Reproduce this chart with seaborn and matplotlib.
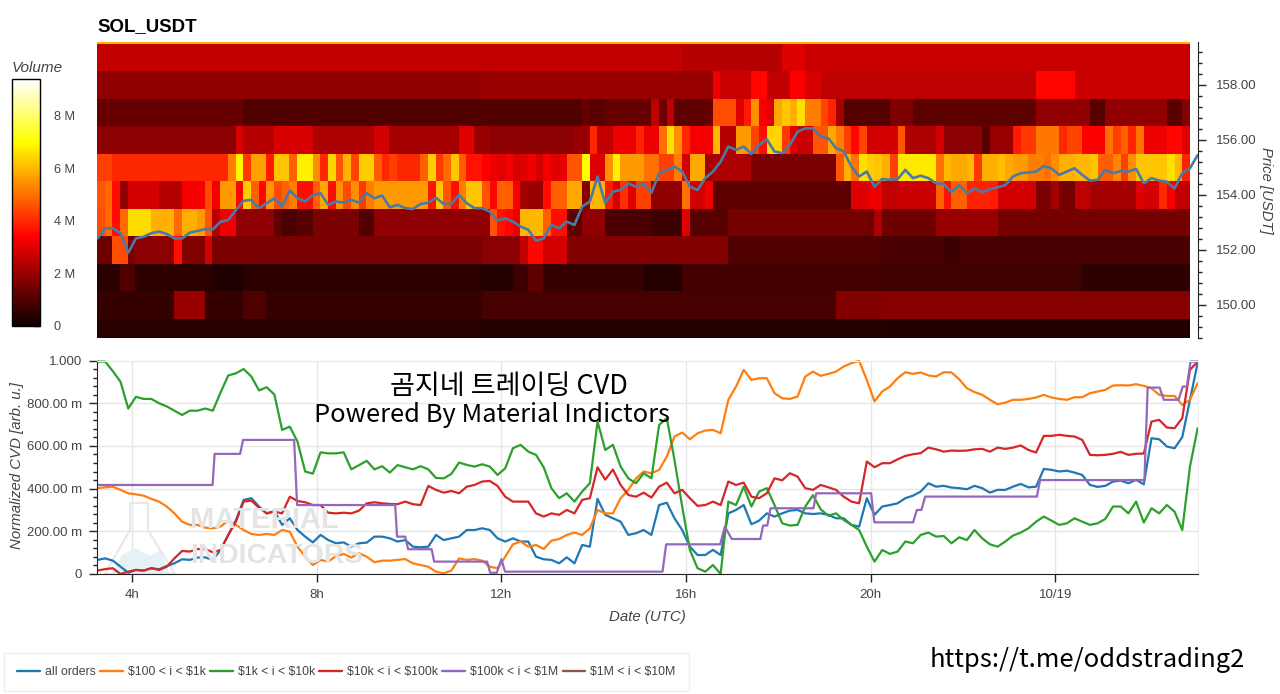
import numpy as np
import pandas as pd
import matplotlib
matplotlib.use("Agg")
import matplotlib.pyplot as plt
import seaborn as sns
from matplotlib.lines import Line2D
from matplotlib.patches import Polygon
from matplotlib.ticker import FixedLocator, FuncFormatter, MultipleLocator

W, H = 1280, 694

# heatmap rows, volume in millions, written as (value, number of 10 minute cells)
price_rows = [149, 150, 151, 152, 153, 154, 155, 156, 157, 158, 159, 160]
row_160 = [(5.9, 142)]
row_159 = [(2.6, 76), (2.4, 13), (3.0, 3), (2.7, 50)]
row_158 = [(1.9, 50), (2.0, 30), (3.2, 1), (2.7, 4), (3.5, 2), (2.6, 3), (3.4, 2), (2.9, 2), (2.5, 28), (3.5, 5), (2.7, 15)]
row_157 = [(1.3, 19), (1.0, 44), (1.3, 1), (1.1, 2), (1.3, 6), (2.5, 1), (1.4, 1), (2.5, 1), (1.2, 4), (1.3, 1),
           (4.5, 3), (3.0, 1), (3.8, 1), (5.4, 1), (3.3, 1), (3.0, 1), (5.8, 1), (6.2, 1), (5.9, 1), (6.6, 1), (5.2, 2),
           (4.4, 1), (3.9, 1), (2.2, 1), (1.05, 6), (1.6, 3), (1.15, 16), (1.9, 7), (1.1, 2), (1.9, 8), (1.1, 2), (1.7, 1)]
row_156 = [(1.8, 18), (2.9, 1), (2.4, 4), (2.9, 5), (2.3, 8), (2.8, 2), (2.2, 9), (3.0, 2), (2.0, 2), (1.8, 11),
           (2.0, 2), (4.0, 1), (2.6, 2), (3.2, 3), (3.9, 1), (3.2, 2), (5.0, 1), (6.6, 1), (5.4, 1), (4.0, 1), (3.3, 3),
           (6.0, 1), (2.4, 2), (5.6, 2), (4.4, 1), (3.6, 1), (6.4, 2), (4.2, 1), (3.0, 1), (2.7, 2), (4.6, 2), (5.8, 1),
           (5.2, 1), (4.3, 1), (3.5, 1), (4.4, 1), (2.8, 4), (4.6, 1), (2.3, 4), (2.8, 1), (1.8, 5), (1.1, 1), (2.0, 3),
           (3.8, 1), (4.2, 2), (5.1, 3), (4.0, 1), (4.4, 2), (3.4, 3), (5.0, 1), (4.3, 1), (4.8, 1), (4.0, 1), (5.0, 1),
           (3.2, 3), (3.5, 2), (3.0, 1), (6.1, 1)]
row_155 = [(4.3, 2), (4.0, 15), (5.2, 1), (6.9, 1), (4.2, 1), (5.7, 2), (3.8, 1), (6.2, 2), (4.8, 1), (6.8, 2), (5.4, 1),
           (4.0, 1), (6.4, 1), (4.6, 1), (5.9, 1), (4.4, 1), (6.3, 2), (4.7, 1), (4.0, 1), (4.3, 1), (4.0, 3), (4.8, 1),
           (6.3, 1), (4.2, 1), (4.9, 1), (6.2, 1), (4.7, 1), (3.7, 2), (3.4, 1), (3.2, 1), (3.0, 1), (3.3, 1), (2.9, 1),
           (3.0, 1), (3.2, 1), (2.8, 1), (3.3, 1), (3.0, 1), (3.1, 1), (4.6, 2), (7.0, 1), (3.0, 2), (5.5, 1), (6.8, 1),
           (5.6, 3), (5.0, 2), (4.3, 2), (5.2, 1), (2.8, 1), (5.8, 2), (2.2, 1), (2.3, 5), (1.6, 11), (4.6, 1), (5.9, 1),
           (5.0, 1), (6.6, 1), (6.3, 1), (6.2, 1), (5.9, 1), (4.3, 1), (6.7, 5), (5.0, 1), (6.0, 1), (5.8, 2), (6.0, 1),
           (4.2, 1), (5.9, 2), (6.1, 1), (5.8, 1), (5.6, 2), (5.2, 2), (5.0, 1), (5.4, 1), (5.9, 2), (6.0, 2), (6.2, 1),
           (4.8, 1), (4.7, 1), (5.3, 1), (4.3, 1), (5.4, 1), (6.2, 4), (6.6, 1), (6.0, 1), (3.9, 1)]
row_154 = [(4.6, 1), (4.9, 1), (3.6, 1), (1.9, 1), (2.8, 4), (2.4, 3), (3.3, 3), (4.5, 1), (3.3, 1), (5.6, 2), (3.5, 1),
           (6.3, 1), (4.8, 1), (3.5, 1), (5.5, 1), (4.5, 1), (4.8, 1), (5.2, 1), (3.6, 2), (4.8, 1), (5.8, 1), (3.6, 1),
           (5.4, 1), (4.5, 1), (5.4, 1), (4.2, 1), (5.2, 1), (5.6, 7), (3.7, 1), (6.2, 1), (4.6, 1), (3.6, 1), (5.2, 1),
           (6.2, 2), (4.6, 1), (3.5, 1), (4.8, 2), (3.4, 1), (2.2, 1), (2.0, 2), (3.6, 1), (4.8, 2), (5.8, 2), (1.7, 1),
           (6.0, 2), (3.8, 1), (2.9, 1), (4.1, 1), (3.0, 1), (4.3, 2), (1.9, 4), (5.0, 1), (2.8, 2), (3.2, 1), (1.2, 18),
           (3.0, 2), (3.2, 2), (2.6, 2), (2.7, 5), (4.8, 1), (3.7, 1), (4.8, 2), (3.9, 3), (3.8, 1), (2.8, 5), (1.6, 2),
           (2.2, 1), (1.5, 2), (2.5, 2), (2.2, 6), (3.0, 1), (2.8, 2), (4.0, 1), (3.3, 1), (2.6, 2)]
row_153 = [(4.5, 1), (4.9, 1), (3.6, 1), (4.9, 1), (6.5, 3), (5.9, 3), (4.9, 1), (5.9, 2), (5.6, 1), (4.6, 1), (2.4, 1),
           (3.2, 2), (1.9, 5), (1.2, 1), (0.9, 2), (1.1, 2), (1.6, 6), (1.0, 2), (1.9, 15), (4.6, 1), (3.7, 1), (3.5, 1),
           (3.1, 1), (6.0, 3), (4.8, 1), (3.6, 2), (1.2, 2), (1.9, 3), (0.9, 6), (0.7, 4), (3.0, 1), (1.1, 5), (1.5, 18),
           (1.4, 1), (2.3, 1), (1.4, 7), (2.0, 8), (1.5, 25)]
row_152 = [(1.4, 2), (4.5, 2), (1.6, 1), (1.8, 5), (3.6, 1), (1.7, 3), (2.8, 1), (1.6, 35), (1.8, 5), (2.6, 1), (3.5, 2),
           (2.8, 3), (1.7, 21), (1.0, 20), (0.9, 8), (0.7, 2), (0.9, 30)]
row_151 = [(0.45, 3), (1.0, 2), (0.5, 10), (0.3, 4), (0.5, 31), (0.4, 4), (0.7, 2), (1.2, 2), (0.6, 13), (0.4, 5), (0.8, 26),
           (0.75, 26), (0.55, 14)]
row_150 = [(0.6, 10), (2.0, 4), (0.6, 5), (0.95, 3), (0.6, 28), (0.85, 46), (1.7, 6), (1.75, 40)]
row_149 = [(0.45, 50), (0.4, 52), (0.35, 40)]

# price and CVD series are sampled every 10 minutes from 03:15
price_usdt = [152.42, 152.79, 152.79, 152.61, 151.90, 152.42, 152.48, 152.61, 152.67, 152.58, 152.42, 152.42, 152.63,
              152.69, 152.76, 152.75, 153.03, 153.09, 153.45, 153.79, 153.82, 153.52, 153.70, 153.88, 153.58, 154.16,
              153.88, 153.76, 154.0, 154.06, 153.64, 153.76, 153.72, 153.82, 153.72, 154.06, 153.88, 153.98, 153.55,
              153.64, 153.52, 153.49, 153.67, 153.72, 153.90, 153.67, 153.67, 154.0, 153.70, 153.52, 153.52, 153.39,
              153.07, 153.15, 153.03, 152.85, 152.73, 152.34, 152.42, 152.91, 152.79, 153.03, 152.91, 153.58, 153.76,
              154.67, 153.70, 154.12, 154.18, 154.42, 154.30, 154.42, 154.08, 154.79, 154.91, 155.03, 154.85, 154.30,
              154.18, 154.61, 154.85, 155.21, 155.76, 155.64, 155.76, 155.49, 155.82, 156.02, 155.58, 155.52, 155.82,
              156.30, 156.42, 156.42, 156.12, 156.06, 155.70, 155.58, 155.03, 154.67, 154.85, 154.30, 154.58, 154.55,
              154.57, 154.91, 154.61, 154.70, 154.61, 154.42, 154.40, 154.10, 154.36, 154.06, 154.24, 154.10, 154.21,
              154.28, 154.36, 154.67, 154.79, 154.82, 154.85, 155.05, 154.97, 154.73, 154.85, 154.97, 154.73, 154.52,
              154.55, 154.91, 154.79, 154.87, 154.85, 154.95, 154.42, 154.61, 154.52, 154.48, 154.24, 154.79, 154.97,
              155.45]

cvd_all = [.066, .073, .0625, .034, .006, .019, .016, .027, .022, .037, .05, .069, .066, .077, .078, .066, .1125, .183,
           .253, .347, .355, .316, .284, .295, .23, .261, .206, .175, .148, .183, .159, .144, .148, .128, .144, .147,
           .175, .175, .167, .152, .159, .128, .125, .128, .183, .159, .167, .175, .206, .206, .214, .206, .167, .152,
           .167, .152, .152, .081, .069, .066, .05, .078, .05, .136, .128, .352, .277, .261, .245, .183, .191, .206,
           .183, .323, .334, .261, .206, .128, .089, .089, .113, .089, .284, .30, .323, .233, .25, .284, .269, .284,
           .297, .30, .284, .281, .284, .277, .261, .261, .23, .222, .355, .277, .316, .323, .331, .355, .367, .386,
           .425, .409, .413, .405, .402, .397, .413, .402, .381, .394, .394, .409, .422, .406, .409, .492, .488, .480,
           .484, .475, .464, .417, .408, .413, .433, .4375, .425, .441, .42, .636, .631, .597, .589, .641, .816, .989]
cvd_100_1k = [.402, .406, .409, .394, .378, .373, .367, .352, .339, .316, .284, .245, .23, .23, .217, .214, .222, .25,
              .23, .206, .1875, .183, .1875, .183, .206, .198, .128, .081, .042, .066, .058, .084, .094, .077, .097,
              .081, .055, .0625, .0625, .066, .07, .05, .042, .034, .011, .003, .016, .073, .066, .070, .0625, .034,
              .027, .081, .139, .152, .128, .136, .117, .156, .164, .183, .194, .183, .214, .30, .284, .284, .355, .394,
              .448, .48, .472, .4875, .55, .644, .6625, .631, .659, .672, .675, .659, .816, .878, .956, .909, .917, .917,
              .847, .823, .82, .831, .925, .948, .928, .9375, .948, .972, .9875, .998, .909, .808, .855, .878, .917,
              .945, .9375, .944, .93, .925, .945, .944, .9125, .87, .852, .839, .816, .795, .803, .816, .816, .82, .827,
              .839, .827, .82, .816, .828, .828, .847, .855, .8625, .883, .884, .883, .889, .881, .87, .839, .834, .834,
              .792, .816, .894]
cvd_1k_10k = [.995, .995, .95, .90, .775, .83, .82, .82, .80, .785, .765, .745, .765, .765, .775, .765, .85, .93, .94,
              .96, .925, .86, .875, .84, .675, .69, .62, .48, .47, .57, .565, .565, .57, .49, .51, .53, .49, .505, .475,
              .51, .50, .49, .505, .49, .45, .448, .469, .522, .511, .503, .514, .503, .464, .495, .589, .605, .573,
              .558, .5, .402, .355, .378, .339, .386, .425, .714, .581, .605, .503, .448, .425, .472, .448, .698, .73,
              .534, .316, .1125, .027, .011, .042, 0, .339, .323, .409, .316, .386, .402, .323, .2375, .227, .23, .316,
              .369, .303, .273, .284, .253, .23, .206, .128, .058, .1125, .094, .105, .152, .144, .183, .194, .175, .178,
              .144, .172, .159, .206, .167, .139, .128, .152, .18, .194, .214, .245, .269, .25, .23, .2375, .261, .245,
              .23, .2375, .258, .316, .316, .284, .339, .241, .308, .284, .323, .292, .206, .503, .683]
cvd_10k_100k = [.016, .023, .027, 0, .011, .019, .016, .027, .019, .034, .073, .108, .105, .117, .116, .102, .1125, .183,
                .245, .339, .344, .31, .284, .292, .284, .362, .342, .336, .323, .323, .287, .284, .287, .284, .297, .331,
                .336, .331, .328, .327, .339, .327, .323, .4125, .394, .381, .389, .378, .409, .417, .433, .436, .4125,
                .362, .339, .339, .339, .284, .269, .284, .277, .3, .284, .347, .355, .5, .442, .489, .417, .37, .362,
                .381, .358, .409, .428, .378, .394, .355, .319, .323, .339, .323, .433, .417, .428, .362, .355, .378,
                .448, .439, .472, .456, .402, .394, .417, .406, .394, .362, .339, .331, .527, .5, .519, .519, .537, .553,
                .561, .566, .592, .584, .573, .578, .577, .578, .584, .586, .573, .592, .586, .592, .602, .581, .569,
                .647, .647, .652, .647, .644, .628, .558, .556, .558, .563, .572, .558, .563, .564, .714, .722, .686,
                .683, .73, .956, .995]
# this one moves in steps, so it keeps its own time stamps
purple_hours = [3.24, 5.744, 5.788, 6.34, 6.405, 7.51, 7.575, 9.70, 9.74, 9.916, 9.98, 10.49, 10.544, 11.69, 11.757,
                11.90, 12.0, 12.08, 15.49, 15.57, 16.74, 16.84, 16.99, 17.61, 17.67, 17.76, 17.83, 18.76, 18.82, 20.01,
                20.08, 20.92, 21.0, 21.1, 21.18, 23.6, 23.67, 25.93, 26.0, 26.26, 26.35, 26.67, 26.76, 26.85, 26.93,
                27.08]
cvd_100k_1m = [.417, .417, .5625, .5625, .628, .628, .323, .323, .175, .175, .116, .116, .058, .058, .006,
               .006, .069, .011, .011, .139, .139, .222, .164, .164, .227, .227, .308, .308, .378, .378,
               .242, .242, .30, .30, .3625, .3625, .44, .44, .873, .873, .816, .816, .878, .878, .995,
               .995]

hour_ticks = [4, 8, 12, 16, 20, 24]
hour_labels = ["4h", "8h", "12h", "16h", "20h", "10/19"]
cvd_ticks = [0, 0.2, 0.4, 0.6, 0.8, 1.0]
cvd_labels = ["0", "200.00 m", "400.00 m", "600.00 m", "800.00 m", "1.000"]
volume_ticks = [0, 2, 4, 6, 8]
volume_labels = ["0", "2 M", "4 M", "6 M", "8 M"]
legend_labels = ["all orders", "$100 < i < $1k", "$1k < i < $10k", "$10k < i < $100k", "$100k < i < $1M", "$1M < i < $10M"]


def expand(runs):
    vals = [v for v, n in runs for _ in range(n)]
    return vals[:142] + vals[-1:] * (142 - len(vals))


def px_axes(fig, left, top, right, bottom):
    return fig.add_axes([left / W, 1 - bottom / H, (right - left) / W, (bottom - top) / H])


def main():
    sns.set_style("white")
    plt.rcParams["font.family"] = ["Liberation Sans", "Noto Sans CJK KR", "DejaVu Sans"]
    plt.rcParams["text.parse_math"] = False
    text_col = "#444444"

    fig = plt.figure(figsize=(W / 100, H / 100), dpi=100)
    tab = sns.color_palette("tab10")

    # [1] volume heatmap
    rows = [row_149, row_150, row_151, row_152, row_153, row_154, row_155, row_156, row_157, row_158, row_159, row_160]
    volume = pd.DataFrame([expand(r) for r in rows], index=price_rows)
    ax_heat = px_axes(fig, 97, 42, 1190, 338)
    ax_cbar = px_axes(fig, 12, 79, 40, 326)
    sns.heatmap(volume, ax=ax_heat, cmap="hot", vmin=0, vmax=9.4, cbar_ax=ax_cbar,
                cbar_kws={"ticks": volume_ticks}, xticklabels=False, yticklabels=False)
    # rows are 1 USD high and centred on whole prices, so index = price - 148.5
    ax_heat.set_ylim(148.8 - 148.5, 159.56 - 148.5)
    ax_heat.set_xlim(0, 142)
    ax_heat.set(xlabel="", ylabel="")
    ax_heat.text(0, 1.036, "SOL_USDT", transform=ax_heat.transAxes, fontsize=13.4, fontweight="bold", color="black")

    ax_cbar.set_yticklabels(volume_labels, fontsize=9.2, color=text_col)
    ax_cbar.tick_params(axis="y", direction="in", length=5, width=1, color="#7a0000", pad=10, right=True, left=False)
    cbar = ax_heat.collections[0].colorbar
    cbar.outline.set_visible(True)
    cbar.outline.set_edgecolor("black")
    cbar.outline.set_linewidth(1)
    fig.text(12 / W, 1 - 68 / H, "Volume", fontsize=11, style="italic", color=text_col, va="center")

    # [2] price line over the heatmap, same pixels but own scales
    hours = 3.25 + np.arange(144) / 6
    ax_price = px_axes(fig, 97, 42, 1197.5, 338)
    ax_price.patch.set_visible(False)
    sns.lineplot(x=hours, y=price_usdt, ax=ax_price, color="#4a7ba6", linewidth=1.9, estimator=None)
    ax_price.set_xlim(3.24, 27.08)
    ax_price.set_ylim(148.8, 159.56)
    ax_price.set_xticks([])
    ax_price.yaxis.tick_right()
    ax_price.yaxis.set_major_locator(FixedLocator([150, 152, 154, 156, 158]))
    ax_price.yaxis.set_major_formatter(FuncFormatter(lambda v, _: f"{v:.2f}"))
    ax_price.yaxis.set_minor_locator(MultipleLocator(0.4))
    ax_price.tick_params(axis="y", which="major", right=True, length=6, width=1, color="#222222", labelsize=9.5,
                         labelcolor=text_col, pad=7)
    ax_price.tick_params(axis="y", which="minor", right=True, length=3, width=1, color="#222222")
    for side in ["left", "top", "bottom"]:
        ax_price.spines[side].set_visible(False)
    ax_price.spines["right"].set_color("#222222")
    fig.text(1266 / W, 1 - 190 / H, "Price [USDT]", rotation=270, fontsize=10.7, style="italic", color=text_col,
             ha="center", va="center")

    # [3] CVD panel
    ax_cvd = px_axes(fig, 97, 360.5, 1197.5, 574)
    ax_cvd.grid(True, color="#e6e6e6", linewidth=1)
    ax_cvd.set_axisbelow(True)

    # watermark goes under the lines
    flask = [(130, 503), (148, 503), (148, 530), (175, 574), (105, 574), (130, 530)]
    hill = [(112, 574), (122, 555), (135, 548), (150, 556), (160, 550), (170, 574)]
    for pts, face, edge in [(hill, "#e4f1f5", "none"), (flask, "none", "#e8e8e8")]:
        fig_pts = [(x / W, 1 - y / H) for x, y in pts]
        ax_cvd.add_patch(Polygon(fig_pts, closed=True, facecolor=face, edgecolor=edge, linewidth=1.5,
                                 transform=fig.transFigure, clip_on=False))
    ax_cvd.text(190 / W, 1 - 520 / H, "MATERIAL", transform=fig.transFigure, fontsize=21, fontweight="bold",
                color="#e4e4e4", va="center")
    ax_cvd.text(190 / W, 1 - 556 / H, "INDICATORS", transform=fig.transFigure, fontsize=20.3, fontweight="bold",
                color="#e4e4e4", va="center")

    series = [(hours, cvd_all, tab[0]), (hours, cvd_100_1k, tab[1]), (hours, cvd_1k_10k, tab[2]),
              (hours, cvd_10k_100k, tab[3]), (purple_hours, cvd_100k_1m, tab[4])]
    for x, y, col in series:
        sns.lineplot(x=x, y=y, ax=ax_cvd, color=col, linewidth=1.6, estimator=None)
    ax_cvd.set_xlim(3.24, 27.08)
    ax_cvd.set_ylim(0, 1)
    ax_cvd.set_xticks(hour_ticks)
    ax_cvd.set_xticklabels(hour_labels)
    ax_cvd.set_yticks(cvd_ticks)
    ax_cvd.set_yticklabels(cvd_labels)
    ax_cvd.yaxis.set_minor_locator(MultipleLocator(0.04))
    ax_cvd.tick_params(axis="both", which="major", left=True, bottom=True, length=6, width=1, color="#222222",
                       labelsize=9.5, labelcolor=text_col, pad=5)
    ax_cvd.tick_params(axis="y", which="minor", left=True, length=3, width=1, color="#222222")
    ax_cvd.spines["left"].set_color("#222222")
    ax_cvd.spines["bottom"].set_color("#222222")
    ax_cvd.spines["top"].set_color("#eeeeee")
    ax_cvd.spines["right"].set_color("#eeeeee")
    ax_cvd.set_xlabel("Date (UTC)", fontsize=10.8, style="italic", color=text_col, labelpad=6)
    fig.text(17 / W, 1 - 466 / H, "Normalized CVD [arb. u.]", rotation=90, fontsize=10.8, style="italic",
             color=text_col, ha="center", va="center")

    # [4] texts pasted over the chart
    cjk = ["Noto Sans CJK KR", "DejaVu Sans"]
    fig.text(508.5 / W, 1 - 386 / H, "곰지네 트레이딩 CVD", fontsize=19.5, family=cjk, color="black", ha="center", va="center")
    fig.text(491.5 / W, 1 - 415 / H, "Powered By Material Indictors", fontsize=18.3, family=cjk, color="black",
             ha="center", va="center")
    fig.text(1087 / W, 1 - 660 / H, "https://t.me/oddstrading2", fontsize=18.4, family=cjk, color="black",
             ha="center", va="center")

    # [5] legend strip
    colors = [tab[0], tab[1], tab[2], tab[3], tab[4], tab[5]]
    handles = [Line2D([], [], color=c, linewidth=1.7) for c in colors]
    fig.legend(handles, legend_labels, loc="center left", bbox_to_anchor=(4 / W, 1 - 672 / H), ncol=6, fontsize=8.8,
               labelcolor=text_col, handlelength=1.85, handletextpad=0.42, columnspacing=0.35, borderpad=1.1,
               borderaxespad=0, frameon=True, fancybox=False, edgecolor="#eeeeee", framealpha=1)

    fig.savefig("out.png", dpi=100)
    plt.close(fig)


if __name__ == "__main__":
    main()
